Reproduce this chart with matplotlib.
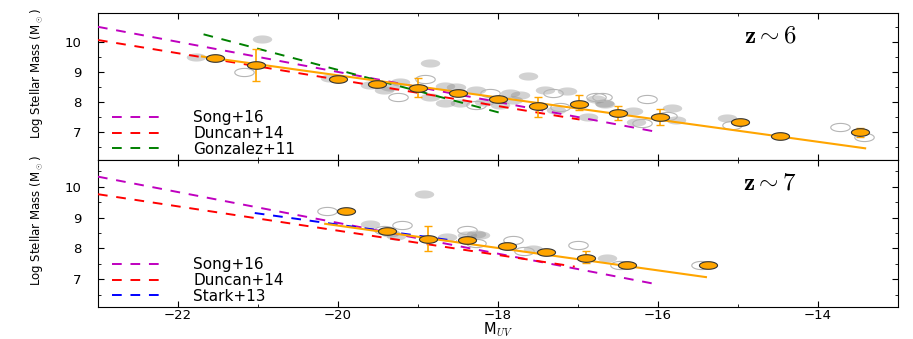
import matplotlib
matplotlib.use("Agg")
import matplotlib.pyplot as plt
from matplotlib.path import Path
import numpy as np

plt.rcParams["mathtext.fontset"] = "cm"
plt.rcParams["font.family"] = "DejaVu Sans"

# ---- z ~ 6 ----
z6_med_M = [-21.54, -21.02, -20.0, -19.51, -19.0, -18.5, -18.0, -17.5, -16.99, -16.5, -15.98, -14.98, -14.48, -13.48]
z6_med_logM = [9.46, 9.23, 8.77, 8.62, 8.46, 8.29, 8.12, 7.87, 7.94, 7.64, 7.50, 7.33, 6.87, 6.99]
z6_err_lo = [0.0, 0.53, 0.0, 0.0, 0.28, 0.0, 0.0, 0.36, 0.21, 0.24, 0.27, 0.0, 0.0, 0.15]
z6_err_hi = [0.0, 0.53, 0.0, 0.0, 0.33, 0.0, 0.0, 0.31, 0.29, 0.23, 0.27, 0.0, 0.0, 0.15]

z6_gal_M = [-21.77, -20.95, -20.1, -19.23, -19.43, -19.6, -18.66, -18.85, -18.66, -19.35, -18.85,
            -17.62, -18.52, -18.27, -17.85, -17.73, -17.41, -17.14, -16.77, -16.68, -17.27, -16.87,
            -18.48, -18.18, -17.98, -17.81, -15.83, -16.66, -16.31, -15.77, -15.14, -16.27]
z6_gal_logM = [9.49, 10.09, 8.81, 8.68, 8.40, 8.57, 8.53, 9.31, 7.98, 8.49, 8.18,
               8.87, 8.51, 8.40, 8.29, 8.23, 8.42, 8.38, 8.12, 7.96, 7.73, 7.51,
               7.96, 8.01, 7.90, 8.07, 7.82, 7.93, 7.71, 7.42, 7.46, 7.34]
z6_open_M = [-21.18, -19.25, -18.91, -18.1, -17.31, -16.77, -18.27, -17.23, -16.14, -16.7, -15.89,
             -16.2, -15.08, -13.73, -13.43]
z6_open_logM = [9.01, 8.18, 8.76, 8.29, 8.31, 8.18, 7.90, 7.84, 8.09, 8.18, 7.53,
                7.29, 7.23, 7.18, 6.84]

z6_fit_M = [-21.7, -13.41]
z6_fit_logM = [9.52, 6.46]
z6_rel_names = ["Song+16", "Duncan+14", "Gonzalez+11"]
z6_rel_colors = ["m", "r", "g"]
z6_rel_M = [[-23.0, -15.98], [-23.0, -16.98], [-21.68, -17.94]]
z6_rel_logM = [[10.51, 6.99], [10.07, 7.42], [10.26, 7.62]]

# ---- z ~ 7 ----
z7_med_M = [-19.9, -19.39, -18.88, -18.39, -17.89, -17.4, -16.9, -16.39, -15.38]
z7_med_logM = [9.23, 8.58, 8.32, 8.26, 8.07, 7.88, 7.70, 7.45, 7.45]
z7_err_lo = [0.0, 0.0, 0.41, 0.0, 0.0, 0.0, 0.16, 0.0, 0.0]
z7_err_hi = [0.0, 0.0, 0.42, 0.0, 0.11, 0.0, 0.21, 0.0, 0.0]

z7_gal_M = [-18.93, -19.6, -19.35, -18.64, -18.39, -18.27, -19.27, -17.56, -16.64, -18.23]
z7_gal_logM = [9.76, 8.80, 8.51, 8.36, 8.45, 8.47, 8.40, 7.97, 7.70, 8.45]
z7_open_M = [-20.14, -19.2, -18.39, -19.43, -18.27, -17.81, -17.68, -17.0, -16.48, -15.46]
z7_open_logM = [9.23, 8.75, 8.59, 8.61, 8.18, 8.26, 7.91, 8.11, 7.45, 7.45]

z7_fit_M = [-20.16, -15.4]
z7_fit_logM = [8.80, 7.07]
z7_rel_names = ["Song+16", "Duncan+14", "Stark+13"]
z7_rel_colors = ["m", "r", "b"]
z7_rel_M = [[-23.0, -15.98], [-23.0, -17.04], [-21.04, -18.52]]
z7_rel_logM = [[10.33, 6.82], [9.76, 7.41], [9.15, 8.24]]

# flattened circle marker (the figure is stretched sideways)
t = np.linspace(0, 2 * np.pi, 64)
ell = Path(np.column_stack([np.cos(t), 0.42 * np.sin(t)]), closed=True)

fig = plt.figure(figsize=(9.13, 3.39), dpi=100)
ax_top = fig.add_axes([0.1073, 0.528, 0.8762, 0.4336])
ax_bot = fig.add_axes([0.1073, 0.0944, 0.8762, 0.4336])

panels = [
    (ax_top, z6_med_M, z6_med_logM, z6_err_lo, z6_err_hi, z6_gal_M, z6_gal_logM, z6_open_M, z6_open_logM,
     z6_fit_M, z6_fit_logM, z6_rel_names, z6_rel_colors, z6_rel_M, z6_rel_logM, r"$\mathbf{z}\sim 6$", (6.07, 10.97)),
    (ax_bot, z7_med_M, z7_med_logM, z7_err_lo, z7_err_hi, z7_gal_M, z7_gal_logM, z7_open_M, z7_open_logM,
     z7_fit_M, z7_fit_logM, z7_rel_names, z7_rel_colors, z7_rel_M, z7_rel_logM, r"$\mathbf{z}\sim 7$", (6.10, 10.87)),
]

for (ax, mM, mL, elo, ehi, gM, gL, oM, oL, fM, fL, names, cols, rM, rL, label, ylim) in panels:
    ax.plot(gM, gL, ls="none", marker=ell, ms=14, mfc="gray", mec="none", alpha=0.35, zorder=2)
    ax.plot(oM, oL, ls="none", marker=ell, ms=14, mfc="none", mec="#b5b5b5", mew=0.8, zorder=2)
    for name, c, xm, ym in zip(names, cols, rM, rL):
        ax.plot(xm, ym, ls="--", dashes=(5, 4.5), color=c, lw=1.4, label=name, zorder=3)
    ax.plot(fM, fL, color="orange", lw=1.5, zorder=4)
    ax.errorbar(mM, mL, yerr=[elo, ehi], fmt="none", ecolor="orange", elinewidth=1.2, capsize=3, zorder=4)
    ax.plot(mM, mL, ls="none", marker=ell, ms=13, mfc="orange", mec="#333333", mew=0.8, zorder=5)

    ax.set_xlim(-23, -13)
    ax.set_ylim(*ylim)
    ax.set_yticks([7, 8, 9, 10])
    ax.set_yticks(np.arange(6.5, 11.0, 0.5), minor=True)
    ax.set_xticks([-22, -20, -18, -16, -14])
    ax.set_xticks(np.arange(-23, -12.9, 1), minor=True)
    ax.tick_params(which="both", direction="in", top=True, right=True, labelsize=9.5)
    ax.tick_params(which="major", length=4)
    ax.tick_params(which="minor", length=2)
    ax.tick_params(axis="y", pad=12)
    ax.tick_params(axis="x", pad=1.5)
    ax.set_ylabel(r"Log Stellar Mass (M$_\odot$)", fontsize=8.5)
    ax.yaxis.set_label_coords(-0.066, 0.59)
    ax.text(0.84, 0.85, label, transform=ax.transAxes, fontsize=18, ha="center", va="center")
    ax.legend(loc="lower left", frameon=False, fontsize=11, handlelength=3.3, handletextpad=2.0,
              labelspacing=0.05, borderaxespad=0.0, bbox_to_anchor=(0.01, -0.02))

ax_top.tick_params(labelbottom=False)
ax_bot.set_xlabel(r"M$_{UV}$", fontsize=10.5)
ax_bot.xaxis.set_label_coords(0.5, -0.095)

fig.savefig("out.png", dpi=100)
